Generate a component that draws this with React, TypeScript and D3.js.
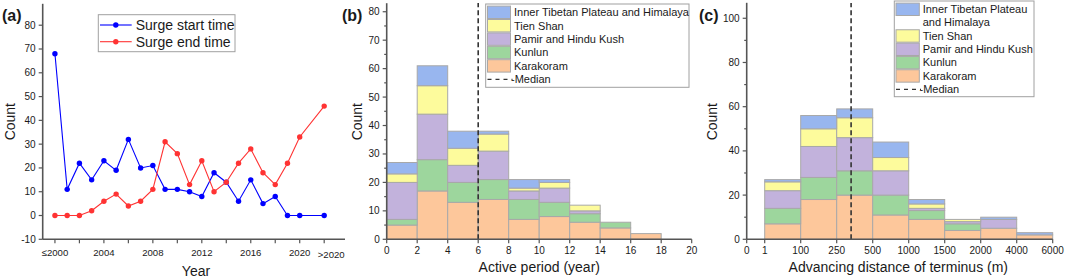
import React from "react";
import * as d3 from "d3";

const FONT = "'Liberation Sans', Arial, Helvetica, sans-serif";
const AXIS = "#555555";
const TEXT = "#1a1a1a";

// ---------- Panel (a) data ----------
const yearValues = [2000, 2001, 2002, 2003, 2004, 2005, 2006, 2007, 2008, 2009, 2010, 2011, 2012, 2013, 2014, 2015, 2016, 2017, 2018, 2019, 2020, 2022];
const surgeStart = [68, 11, 22, 15, 23, 19, 32, 20, 21, 11, 11, 10, 8, 18, 14, 6, 15, 5, 8, 0, 0, 0];
const surgeEnd = [0, 0, 0, 2, 6, 9, 4, 6, 11, 31, 26, 13, 23, 10, 14, 22, 28, 18, 13, 22, 33, 46];
const yearTicks = [2000, 2002, 2004, 2006, 2008, 2010, 2012, 2014, 2016, 2018, 2020, 2022];
const yearTickLabels = ["≤2000", "", "2004", "", "2008", "", "2012", "", "2016", "", "2020", ">2020"];
const countTicksA = [-10, 0, 10, 20, 30, 40, 50, 60, 70, 80];

// ---------- Shared series ----------
const seriesKeys = ["karakoram", "kunlun", "pamir", "tienShan", "inner"];
const seriesColors = ["#fdc79b", "#9dd69d", "#c2b2dc", "#fdfb9c", "#98b6ef"];
const legendOrder = [4, 3, 2, 1, 0];
const legendLabelsB = ["Karakoram", "Kunlun", "Pamir and Hindu Kush", "Tien Shan", "Inner Tibetan Plateau and Himalaya"];
const legendLabelsC = ["Karakoram", "Kunlun", "Pamir and Hindu Kush", "Tien Shan", "Inner Tibetan Plateau|and Himalaya"];

// ---------- Panel (b) data ----------
const binStartB = [0, 2, 4, 6, 8, 10, 12, 14, 16];
const binWidthB = 2;
const karakoramB = [5, 17, 13, 14, 7, 8, 6, 4, 2];
const kunlunB = [2, 11, 7, 7, 7, 5, 3, 2, 0];
const pamirB = [13, 16, 6, 10, 3, 5, 1, 0, 0];
const tienShanB = [3, 10, 6, 6, 1, 2, 2, 0, 0];
const innerB = [4, 7, 6, 1, 3, 1, 0, 0, 0];
const medianB = 6;
const xTicksB = [0, 2, 4, 6, 8, 10, 12, 14, 16, 18, 20];
const yMajorB = [0, 10, 20, 30, 40, 50, 60, 70, 80];
const yMinorB = [5, 15, 25, 35, 45, 55, 65, 75];

// ---------- Panel (c) data ----------
const distanceEdges = [0, 1, 100, 250, 500, 1000, 1500, 2000, 4000, 6000];
const distanceIndex = [-0.5, 0, 1, 2, 3, 4, 5, 6, 7, 8];
const karakoramC = [7, 18, 20, 11, 9, 4, 5, 2];
const kunlunC = [7, 10, 11, 9, 4, 3, 0, 0];
const pamirC = [8, 14, 15, 11, 1, 1, 4, 0];
const tienShanC = [4, 8, 9, 6, 2, 1, 0, 0];
const innerC = [1, 6, 4, 7, 2, 0, 1, 1];
const medianC = 350;
const yMajorC = [0, 20, 40, 60, 80, 100];
const yMinorC = [10, 30, 50, 70, 90];

function stackRows(cols: number[][]) {
  const rows = cols[0].map((_, i) => {
    const r: Record<string, number> = { i };
    seriesKeys.forEach((k, j) => (r[k] = cols[j][i]));
    return r;
  });
  return d3.stack<any>().keys(seriesKeys)(rows);
}

function YAxis({ scale, x, major, minor, top }: any) {
  return (
    <g>
      <line x1={x} x2={x} y1={scale.range()[0]} y2={top} stroke={AXIS} strokeWidth={1.6} />
      {major.map((v: number) => (
        <g key={"M" + v}>
          <line x1={x - 4} x2={x} y1={scale(v)} y2={scale(v)} stroke={AXIS} strokeWidth={1.2} />
          <text x={x - 7} y={scale(v)} dy="0.35em" textAnchor="end" fontSize={10} fill={TEXT}>{v}</text>
        </g>
      ))}
      {(minor || []).map((v: number) => (
        <line key={"m" + v} x1={x - 2.5} x2={x} y1={scale(v)} y2={scale(v)} stroke={AXIS} strokeWidth={1.2} />
      ))}
    </g>
  );
}

function PanelA() {
  const x = d3.scaleLinear().domain([1999, 2023.7]).range([42.7, 345]);
  const y = d3.scaleLinear().domain([-10, 89]).range([239.3, 3.8]);
  const line = d3.line<number>().x((_, i) => x(yearValues[i])).y((d) => y(d));
  const base = y(-10);
  return (
    <g>
      <text x={2} y={21} fontSize={16} fontWeight="bold" fill={TEXT}>(a)</text>
      <YAxis scale={y} x={x(1999)} major={countTicksA} top={3.8} />
      <line x1={x(1999)} x2={x(2023.7)} y1={base} y2={base} stroke={AXIS} strokeWidth={1.6} />
      {yearTicks.map((t, i) => {
        const last = i === yearTicks.length - 1;
        return (
          <g key={t}>
            <line x1={x(t)} x2={x(t)} y1={base} y2={base + 4} stroke={AXIS} strokeWidth={1.2} />
            {yearTickLabels[i] && (
              <text x={x(t) + (last ? 7 : 0)} y={last ? 258 : 256} textAnchor="middle" fontSize={9.6} fill={TEXT}>{yearTickLabels[i]}</text>
            )}
          </g>
        );
      })}
      <path d={line(surgeStart) || ""} fill="none" stroke="#0000ff" strokeWidth={1.1} />
      <path d={line(surgeEnd) || ""} fill="none" stroke="#ff3333" strokeWidth={1.1} />
      {surgeStart.map((v, i) => (
        <circle key={"s" + i} cx={x(yearValues[i])} cy={y(v)} r={2.7} fill="#0000ff" />
      ))}
      {surgeEnd.map((v, i) => (
        <circle key={"e" + i} cx={x(yearValues[i])} cy={y(v)} r={2.7} fill="#ff3333" />
      ))}
      <text transform={`translate(10,121.7) rotate(-90)`} textAnchor="middle" dy="0.35em" fontSize={14} fill={TEXT}>Count</text>
      <text x={196} y={276} textAnchor="middle" fontSize={14} fill={TEXT}>Year</text>
      {/* legend */}
      <rect x={98.3} y={14.7} width={136.7} height={37} fill="#fff" stroke="#a0a0a0" strokeWidth={1} />
      {[
        { c: "#0000ff", t: "Surge start time", yy: 25 },
        { c: "#ff3333", t: "Surge end time", yy: 41.7 },
      ].map((r) => (
        <g key={r.t}>
          <line x1={100} x2={131.7} y1={r.yy} y2={r.yy} stroke={r.c} strokeWidth={1.1} />
          <circle cx={115.8} cy={r.yy} r={2.7} fill={r.c} />
          <text x={135.7} y={r.yy} dy="0.35em" fontSize={14} fill={TEXT}>{r.t}</text>
        </g>
      ))}
    </g>
  );
}

function PanelB() {
  const x = d3.scaleLinear().domain([0, 20]).range([386.7, 691.7]);
  const y = d3.scaleLinear().domain([0, 83]).range([239.3, 3.2]);
  const stacked = stackRows([karakoramB, kunlunB, pamirB, tienShanB, innerB]);
  const base = y(0);
  return (
    <g>
      <text x={342} y={21} fontSize={16} fontWeight="bold" fill={TEXT}>(b)</text>
      {stacked.map((s, si) => (
        <g key={s.key}>
          {s.map((d, i) =>
            d[1] - d[0] > 0 ? (
              <rect key={i} x={x(binStartB[i])} width={x(binStartB[i] + binWidthB) - x(binStartB[i])} y={y(d[1])} height={y(d[0]) - y(d[1])}
                fill={seriesColors[si]} stroke="#a8a8a8" strokeWidth={1} />
            ) : null
          )}
        </g>
      ))}
      <line x1={x(medianB)} x2={x(medianB)} y1={base} y2={3} stroke="#333" strokeWidth={1.6} strokeDasharray="5,3" />
      <YAxis scale={y} x={x(0)} major={yMajorB} minor={yMinorB} top={3.2} />
      <line x1={x(0)} x2={x(20)} y1={base} y2={base} stroke={AXIS} strokeWidth={1.6} />
      {xTicksB.map((t) => (
        <g key={t}>
          <line x1={x(t)} x2={x(t)} y1={base} y2={base + 4} stroke={AXIS} strokeWidth={1.2} />
          <text x={x(t)} y={254} textAnchor="middle" fontSize={10} fill={TEXT}>{t}</text>
        </g>
      ))}
      <text transform={`translate(357.5,121.7) rotate(-90)`} textAnchor="middle" dy="0.35em" fontSize={14} fill={TEXT}>Count</text>
      <text x={539.3} y={272} textAnchor="middle" fontSize={14} fill={TEXT}>Active period (year)</text>
      {/* legend */}
      <rect x={485.7} y={4} width={203.3} height={83.3} fill="#fff" stroke="#a0a0a0" strokeWidth={1} />
      {legendOrder.map((si, r) => {
        const cy = 12.3 + r * 13.4;
        return (
          <g key={si}>
            <rect x={487.5} y={cy - 6.2} width={23} height={12.4} fill={seriesColors[si]} stroke="#a8a8a8" strokeWidth={1} />
            <text x={514} y={cy} dy="0.35em" fontSize={11} fill={TEXT}>{legendLabelsB[si]}</text>
          </g>
        );
      })}
      <line x1={487.5} x2={512.5} y1={79.3} y2={79.3} stroke="#333" strokeWidth={1.3} strokeDasharray="4,4" />
      <text x={511} y={79.3} dy="0.35em" fontSize={11} fill={TEXT}>-Median</text>
    </g>
  );
}

function PanelC() {
  const xi = d3.scaleLinear().domain([-0.5, 8]).range([746.7, 1052.7]);
  const dx = d3.scaleLinear().domain(distanceEdges).range(distanceIndex.map((v) => xi(v)));
  const y = d3.scaleLinear().domain([0, 107]).range([239.3, 2.8]);
  const stacked = stackRows([karakoramC, kunlunC, pamirC, tienShanC, innerC]);
  const base = y(0);
  const binEdges = distanceEdges.slice(1);
  return (
    <g>
      <text x={699} y={21} fontSize={16} fontWeight="bold" fill={TEXT}>(c)</text>
      {stacked.map((s, si) => (
        <g key={s.key}>
          {s.map((d, i) =>
            d[1] - d[0] > 0 ? (
              <rect key={i} x={dx(binEdges[i])} width={dx(binEdges[i + 1]) - dx(binEdges[i])} y={y(d[1])} height={y(d[0]) - y(d[1])}
                fill={seriesColors[si]} stroke="#a8a8a8" strokeWidth={1} />
            ) : null
          )}
        </g>
      ))}
      <line x1={dx(medianC)} x2={dx(medianC)} y1={base} y2={3} stroke="#333" strokeWidth={1.6} strokeDasharray="5,3" />
      <YAxis scale={y} x={xi(-0.5)} major={yMajorC} minor={yMinorC} top={2.8} />
      <line x1={xi(-0.5)} x2={xi(8)} y1={base} y2={base} stroke={AXIS} strokeWidth={1.6} />
      {distanceEdges.map((t) => (
        <g key={t}>
          <line x1={dx(t)} x2={dx(t)} y1={base} y2={base + 4} stroke={AXIS} strokeWidth={1.2} />
          <text x={dx(t)} y={254} textAnchor="middle" fontSize={10} fill={TEXT}>{t}</text>
        </g>
      ))}
      <text transform={`translate(712.5,121.7) rotate(-90)`} textAnchor="middle" dy="0.35em" fontSize={14} fill={TEXT}>Count</text>
      <text x={898.3} y={272} textAnchor="middle" fontSize={14} fill={TEXT}>Advancing distance of terminus (m)</text>
      {/* legend */}
      <rect x={894.3} y={1} width={139.7} height={95.7} fill="#fff" stroke="#a0a0a0" strokeWidth={1} />
      {(() => {
        let row = 0;
        return legendOrder.map((si) => {
          const lines = legendLabelsC[si].split("|");
          const cy = 9.3 + row * 13.33;
          row += lines.length;
          return (
            <g key={si}>
              <rect x={896} y={cy - 6.2} width={23.3} height={12.4} fill={seriesColors[si]} stroke="#a8a8a8" strokeWidth={1} />
              {lines.map((l, k) => (
                <text key={k} x={922.7} y={cy + k * 13.33} dy="0.35em" fontSize={11} fill={TEXT}>{l}</text>
              ))}
            </g>
          );
        });
      })()}
      <line x1={896} x2={921} y1={89.3} y2={89.3} stroke="#333" strokeWidth={1.3} strokeDasharray="4,4" />
      <text x={919.5} y={89.3} dy="0.35em" fontSize={11} fill={TEXT}>-Median</text>
    </g>
  );
}

export default function App() {
  return (
    <svg width={1065} height={278} viewBox="0 0 1065 278" fontFamily={FONT}
      style={{ position: "absolute", left: 0, top: 0, background: "#fff" }}>
      <rect width={1065} height={278} fill="#fff" />
      <PanelA />
      <PanelB />
      <PanelC />
    </svg>
  );
}
